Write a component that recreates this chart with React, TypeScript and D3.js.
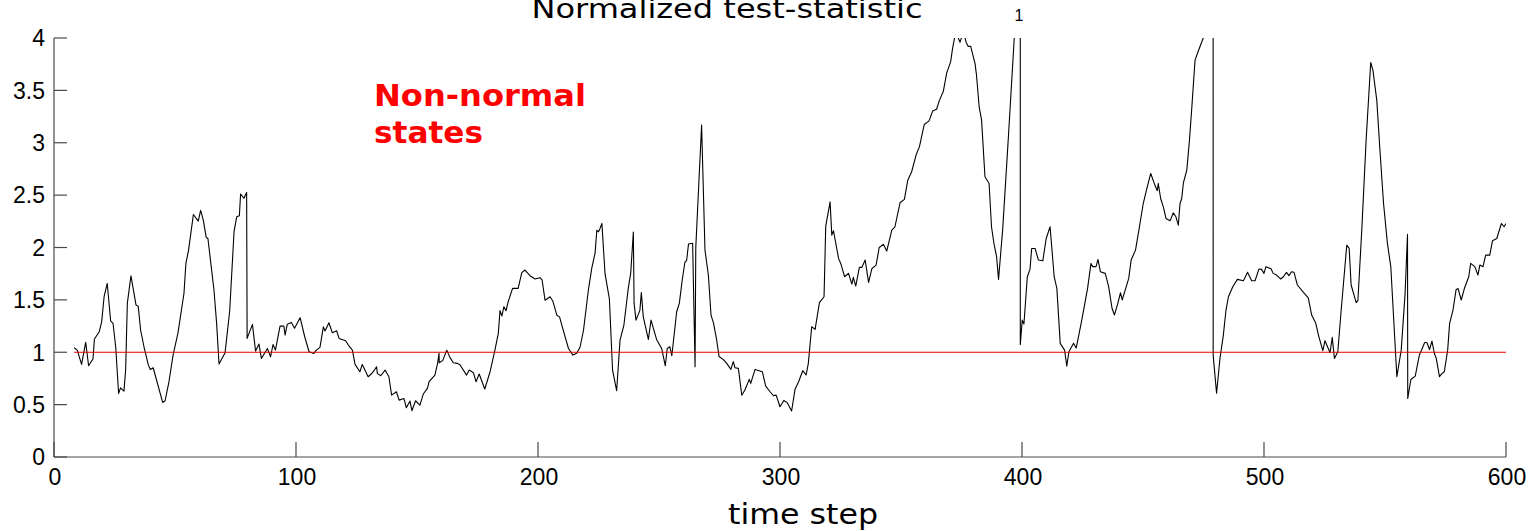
import React from "react";
import * as d3 from "d3";

const xTicks = [0, 100, 200, 300, 400, 500, 600];
const yTicks = [0, 0.5, 1, 1.5, 2, 2.5, 3, 3.5, 4];
const yTickLabels = ["0", "0.5", "1", "1.5", "2", "2.5", "3", "3.5", "4"];
const thresholdValue = 1;

const timeSteps = [
  8.3, 9.6, 11.4, 13.1, 14.3, 16.1, 16.7, 18.7, 19.7, 20.7, 22.0, 23.4, 24.4, 25.5, 26.7, 27.5, 28.9, 29.6, 30.3, 31.8,
  33.9, 34.8, 35.8, 37.2, 39.0, 39.8, 41.0, 42.0, 44.9, 45.9, 47.5, 49.2, 51.2, 53.7, 54.5, 55.6, 57.6, 59.6, 60.6, 61.7,
  62.9, 63.6, 66.1, 67.2, 68.2, 70.7, 72.6, 74.4, 75.5, 76.6, 77.1, 78.5, 79.6, 79.8, 82.0, 83.3, 84.7, 85.7, 88.2, 89.5,
  90.5, 91.5, 93.4, 95.0, 95.5, 96.4, 98.1, 99.4, 101.7, 103.6, 105.4, 107.4, 108.4, 109.9, 111.3, 112.0, 113.6, 115.0, 116.8, 117.8,
  120.5, 121.9, 123.3, 124.4, 126.4, 127.4, 129.8, 131.1, 132.2, 133.3, 133.6, 135.0, 136.8, 138.4, 139.5, 141.5, 142.6, 144.6, 145.6, 147.1,
  147.9, 149.4, 151.2, 152.6, 154.3, 155.0, 157.4, 158.5, 159.1, 159.2, 160.6, 162.3, 163.6, 165.0, 166.7, 167.8, 170.5, 171.6, 173.3, 174.4,
  175.7, 178.0, 180.2, 182.2, 183.6, 184.3, 185.1, 185.9, 186.8, 187.7, 189.5, 191.8, 193.3, 194.6, 196.7, 198.8, 200.8, 201.7, 202.9, 205.0,
  206.1, 207.8, 208.9, 210.8, 212.6, 214.4, 216.0, 217.4, 218.8, 220.8, 222.2, 223.6, 224.3, 225.0, 225.6, 226.4, 227.7, 229.5, 230.8, 232.5,
  233.9, 235.5, 237.3, 238.3, 239.4, 239.7, 240.5, 242.1, 242.7, 243.5, 245.6, 246.7, 249.0, 251.1, 252.6, 253.4, 254.5, 255.3, 257.3, 258.4,
  259.6, 260.7, 261.4, 262.2, 263.9, 264.9, 265.2, 267.6, 269.0, 270.4, 271.5, 272.5, 273.8, 274.8, 276.6, 278.0, 279.7, 280.7, 281.4, 282.8,
  284.2, 285.5, 287.3, 287.9, 289.7, 292.7, 294.1, 295.9, 297.3, 298.4, 300.0, 301.6, 303.0, 304.8, 306.2, 307.6, 309.4, 310.8, 311.7, 313.1,
  314.5, 316.3, 318.2, 318.9, 320.7, 321.4, 322.1, 324.2, 325.1, 326.7, 328.3, 329.7, 330.3, 331.3, 332.8, 333.8, 335.2, 336.6, 338.0, 339.7,
  341.0, 342.7, 344.1, 346.2, 347.5, 349.6, 351.4, 352.8, 354.4, 356.3, 357.6, 359.6, 361.6, 363.1, 364.7, 365.8, 367.5, 368.9, 370.5, 371.3,
  372.6, 374.4, 375.8, 376.9, 377.8, 378.8, 380.6, 381.2, 382.3, 383.3, 384.7, 386.4, 387.4, 388.4, 389.5, 390.3, 392.0, 394.3, 396.8, 397.6,
  399.1, 399.3, 400.1, 400.8, 402.2, 403.3, 404.0, 405.4, 406.8, 408.6, 410.0, 411.6, 413.3, 414.4, 415.8, 417.6, 418.5, 419.4, 421.3, 422.4,
  424.7, 427.1, 428.5, 429.2, 430.6, 431.4, 432.4, 434.4, 435.8, 437.2, 438.2, 439.6, 440.7, 441.4, 444.1, 445.1, 446.9, 448.3, 450.1, 451.5,
  453.2, 454.9, 455.9, 456.3, 457.3, 458.4, 459.5, 461.2, 462.5, 463.6, 464.6, 465.3, 466.0, 466.7, 468.1, 469.2, 470.1, 471.5, 472.9, 474.9,
  476.0, 478.8, 479.0, 480.4, 481.8, 483.2, 484.3, 485.3, 487.1, 489.0, 491.5, 493.2, 494.9, 496.3, 497.9, 499.0, 500.0, 500.8, 502.9, 503.8,
  505.2, 506.9, 508.0, 509.3, 510.3, 511.4, 512.4, 513.8, 516.3, 518.3, 519.7, 521.4, 522.5, 524.3, 525.2, 527.3, 528.2, 529.1, 530.5, 531.9,
  534.2, 535.2, 536.0, 538.1, 538.8, 540.4, 542.2, 544.1, 545.0, 546.6, 548.0, 549.4, 551.0, 552.4, 554.9, 556.7, 558.3, 559.3, 559.4, 560.7,
  562.5, 564.2, 566.4, 567.3, 568.4, 569.4, 570.4, 571.2, 572.5, 573.6, 574.5, 575.9, 576.7, 578.1, 579.4, 580.2, 581.5, 582.8, 584.6, 585.4,
  587.1, 588.4, 589.2, 590.5, 591.6, 593.3, 594.4, 596.2, 598.1, 599.2, 600.0,
];

const statValues = [
  1.043, 1.02, 0.884, 1.094, 0.871, 0.935, 1.126, 1.196, 1.29, 1.53, 1.657, 1.30, 1.275, 1.05, 0.607, 0.66, 0.629, 0.83, 1.466, 1.73,
  1.45, 1.44, 1.21, 1.05, 0.877, 0.836, 0.852, 0.766, 0.521, 0.537, 0.718, 0.973, 1.18, 1.561, 1.848, 1.975, 2.315, 2.252, 2.354, 2.261,
  2.096, 2.086, 1.594, 1.276, 0.888, 0.996, 1.394, 2.151, 2.294, 2.304, 2.51, 2.47, 2.525, 1.132, 1.266, 1.011, 1.078, 0.94, 1.035, 0.957,
  1.074, 1.02, 1.249, 1.249, 1.164, 1.268, 1.285, 1.23, 1.33, 1.148, 1.005, 0.989, 1.02, 1.046, 1.243, 1.202, 1.282, 1.186, 1.205, 1.132,
  1.11, 1.06, 1.02, 0.884, 0.814, 0.884, 0.766, 0.792, 0.824, 0.862, 0.798, 0.776, 0.83, 0.766, 0.591, 0.623, 0.543, 0.559, 0.47, 0.534,
  0.442, 0.537, 0.496, 0.601, 0.655, 0.719, 0.782, 0.894, 0.99, 0.90, 0.92, 1.02, 0.951, 0.90, 0.894, 0.878, 0.782, 0.83, 0.805, 0.719,
  0.792, 0.649, 0.814, 1.02, 1.18, 1.397, 1.346, 1.435, 1.397, 1.483, 1.61, 1.61, 1.76, 1.785, 1.731, 1.699, 1.712, 1.69, 1.497, 1.53,
  1.49, 1.354, 1.338, 1.18, 1.036, 0.973, 0.99, 1.05, 1.21, 1.59, 1.80, 1.949, 2.165, 2.15, 2.18, 2.23, 1.75, 1.51, 0.83, 0.633,
  1.116, 1.26, 1.61, 1.753, 2.147, 1.466, 1.307, 1.40, 1.571, 1.338, 1.122, 1.307, 1.122, 1.036, 0.871, 1.036, 1.052, 0.967, 1.387, 1.466,
  1.69, 1.859, 1.874, 2.033, 2.04, 0.862, 2.0, 3.168, 1.975, 1.737, 1.354, 1.28, 1.122, 0.96, 0.93, 0.894, 0.836, 0.91, 0.852, 0.846,
  0.59, 0.639, 0.741, 0.703, 0.836, 0.814, 0.677, 0.623, 0.585, 0.591, 0.48, 0.54, 0.519, 0.439, 0.646, 0.713, 0.824, 0.783, 0.894, 1.244,
  1.218, 1.473, 1.53, 2.204, 2.436, 2.118, 2.16, 1.896, 1.848, 1.721, 1.753, 1.651, 1.715, 1.632, 1.81, 1.81, 1.88, 1.667, 1.80, 1.832,
  2.0, 2.03, 1.966, 2.166, 2.198, 2.427, 2.459, 2.643, 2.723, 2.888, 2.961, 3.174, 3.209, 3.304, 3.32, 3.40, 3.492, 3.667, 3.772, 3.899,
  4.06, 3.96, 4.06, 3.96, 3.92, 3.92, 3.756, 3.645, 3.343, 3.216, 2.675, 2.611, 2.198, 2.039, 1.912, 1.696, 2.166, 3.025, 4.0, 4.6,
  40, 1.075, 1.307, 1.269, 1.721, 1.791, 1.991, 1.991, 1.88, 1.873, 2.086, 2.198, 1.721, 1.61, 1.085, 1.02, 0.868, 1.005, 1.085, 1.04,
  1.307, 1.61, 1.848, 1.817, 1.817, 1.886, 1.769, 1.753, 1.626, 1.42, 1.356, 1.467, 1.568, 1.499, 1.705, 1.88, 1.975, 2.166, 2.42, 2.554,
  2.707, 2.596, 2.542, 2.612, 2.468, 2.388, 2.277, 2.255, 2.331, 2.293, 2.213, 2.42, 2.468, 2.618, 2.739, 3.025, 3.312, 3.789, 3.878, 4.0,
  4.6, 40, 0.97, 0.608, 0.94, 1.164, 1.403, 1.53, 1.626, 1.696, 1.683, 1.763, 1.683, 1.683, 1.794, 1.791, 1.753, 1.817, 1.797, 1.753,
  1.737, 1.699, 1.721, 1.763, 1.731, 1.769, 1.763, 1.642, 1.572, 1.52, 1.355, 1.276, 1.164, 1.015, 1.11, 0.996, 1.142, 0.94, 1.005, 1.403,
  2.023, 1.991, 1.642, 1.473, 1.492, 2.166, 3.025, 3.766, 3.693, 3.407, 2.898, 2.42, 2.039, 1.817, 0.767, 1.02, 1.56, 2.125, 0.559, 0.74,
  0.772, 0.972, 1.093, 1.093, 1.026, 1.106, 0.988, 0.94, 0.767, 0.798, 0.814, 1.02, 1.276, 1.403, 1.6, 1.608, 1.499, 1.608, 1.721, 1.848,
  1.817, 1.737, 1.832, 1.817, 1.927, 1.927, 2.064, 2.086, 2.229, 2.198, 2.229,
];

const W = 1536;
const H = 531;
const LEFT = 54;
const RIGHT = 1506;
const TOP = 38;
const BOTTOM = 457;

export default function App() {
  const x = d3.scaleLinear().domain([0, 600]).range([LEFT, RIGHT]);
  const y = d3.scaleLinear().domain([0, 4]).range([BOTTOM, TOP]);
  const data = timeSteps.map((t, i) => [t, statValues[i]] as [number, number]);
  const line = d3
    .line<[number, number]>()
    .x((d) => x(d[0]))
    .y((d) => y(d[1]));
  const axisColor = "#4a4a4a";
  const tickFont = "'Liberation Sans', Arial, sans-serif";
  return (
    <div style={{ position: "absolute", left: 0, top: 0 }}>
      <svg width={W} height={H} style={{ display: "block", background: "#fff" }}>
        <defs>
          <clipPath id="plotClip">
            <rect x={LEFT} y={TOP} width={RIGHT - LEFT} height={BOTTOM - TOP} />
          </clipPath>
        </defs>
        <rect x={0} y={0} width={W} height={H} fill="#fff" />
        <g clipPath="url(#plotClip)">
          <path d={line(data) || ""} fill="none" stroke="#000" strokeWidth={1.1} strokeLinejoin="round" />
          <line
            x1={x(timeSteps[0])}
            x2={x(600)}
            y1={y(thresholdValue)}
            y2={y(thresholdValue)}
            stroke="#e00000"
            strokeWidth={1}
          />
        </g>
        <line x1={LEFT} x2={LEFT} y1={TOP} y2={BOTTOM} stroke={axisColor} strokeWidth={1.2} />
        <line x1={LEFT} x2={RIGHT} y1={BOTTOM} y2={BOTTOM} stroke={axisColor} strokeWidth={1.2} />
        {yTicks.map((v, i) => (
          <g key={"y" + i}>
            <line x1={LEFT} x2={LEFT + 13} y1={y(v)} y2={y(v)} stroke={axisColor} strokeWidth={1.2} />
            <text
              x={45}
              y={y(v)}
              dy="0.36em"
              textAnchor="end"
              fontFamily={tickFont}
              fontSize={23}
              fill="#000"
            >
              {yTickLabels[i]}
            </text>
          </g>
        ))}
        {xTicks.map((t, i) => (
          <g key={"x" + i}>
            <line x1={x(t)} x2={x(t)} y1={BOTTOM} y2={BOTTOM - 15} stroke={axisColor} strokeWidth={1.2} />
            <text x={x(t) + 1} y={485} textAnchor="middle" fontFamily={tickFont} fontSize={23} fill="#000">
              {String(t)}
            </text>
          </g>
        ))}
        <text
          x={727}
          y={18}
          textAnchor="middle"
          fontFamily="'DejaVu Sans', Verdana, sans-serif"
          fontSize={26}
          textLength={391}
          lengthAdjust="spacingAndGlyphs"
          fill="#000"
        >
          Normalized test-statistic
        </text>
        <text x={1019} y={21} textAnchor="middle" fontFamily={tickFont} fontSize={16} fill="#000">
          1
        </text>
        <text
          x={803}
          y={524}
          textAnchor="middle"
          fontFamily="'DejaVu Sans', Verdana, sans-serif"
          fontSize={28}
          textLength={150}
          lengthAdjust="spacingAndGlyphs"
          fill="#000"
        >
          time step
        </text>
        <g fontFamily="'DejaVu Sans', Verdana, sans-serif" fontWeight="bold" fontSize={30} fill="#ff0000">
          <text x={374} y={106} textLength={212} lengthAdjust="spacingAndGlyphs">
            Non-normal
          </text>
          <text x={374} y={143} textLength={109} lengthAdjust="spacingAndGlyphs">
            states
          </text>
        </g>
      </svg>
    </div>
  );
}
